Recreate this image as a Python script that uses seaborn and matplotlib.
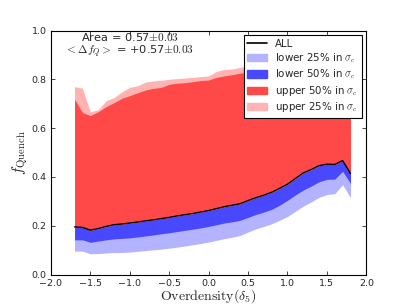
import numpy as np
import pandas as pd
import matplotlib
matplotlib.use("Agg")
import matplotlib.pyplot as plt
from matplotlib.patches import Patch
from matplotlib.lines import Line2D
import seaborn as sns

# overdensity bins
delta5 = [-1.7, -1.6, -1.5, -1.4, -1.3, -1.2, -1.1, -1.0, -0.9, -0.8, -0.7, -0.6,
          -0.5, -0.4, -0.3, -0.2, -0.1, 0.0, 0.1, 0.2, 0.3, 0.4, 0.5, 0.6,
          0.7, 0.8, 0.9, 1.0, 1.1, 1.2, 1.3, 1.4, 1.5, 1.6, 1.7, 1.8]

# quenched fraction, all galaxies
fq_all = [0.195, 0.193, 0.182, 0.188, 0.197, 0.204, 0.207, 0.211, 0.215, 0.220, 0.224, 0.229,
          0.234, 0.240, 0.245, 0.250, 0.256, 0.262, 0.270, 0.278, 0.284, 0.290, 0.303, 0.315,
          0.325, 0.337, 0.353, 0.370, 0.393, 0.416, 0.430, 0.446, 0.452, 0.451, 0.467, 0.414]

fq_low25 = [0.096, 0.096, 0.085, 0.086, 0.088, 0.090, 0.090, 0.092, 0.095, 0.098, 0.101, 0.104,
            0.108, 0.112, 0.117, 0.122, 0.127, 0.133, 0.140, 0.147, 0.153, 0.160, 0.174, 0.187,
            0.197, 0.208, 0.222, 0.238, 0.259, 0.280, 0.297, 0.316, 0.328, 0.331, 0.368, 0.315]

fq_low50 = [0.142, 0.142, 0.132, 0.137, 0.142, 0.146, 0.148, 0.150, 0.154, 0.158, 0.162, 0.167,
            0.171, 0.176, 0.181, 0.186, 0.191, 0.197, 0.204, 0.211, 0.216, 0.222, 0.234, 0.246,
            0.256, 0.267, 0.284, 0.304, 0.326, 0.346, 0.362, 0.380, 0.390, 0.391, 0.423, 0.373]

fq_up50 = [0.719, 0.664, 0.651, 0.667, 0.688, 0.704, 0.722, 0.733, 0.745, 0.756, 0.763, 0.767,
           0.779, 0.784, 0.786, 0.790, 0.795, 0.797, 0.808, 0.814, 0.819, 0.825, 0.830, 0.838,
           0.843, 0.848, 0.852, 0.857, 0.862, 0.866, 0.869, 0.873, 0.876, 0.878, 0.872, 0.862]

fq_up25 = [0.770, 0.764, 0.667, 0.675, 0.712, 0.725, 0.748, 0.767, 0.774, 0.789, 0.793, 0.796,
           0.800, 0.803, 0.805, 0.808, 0.811, 0.814, 0.832, 0.841, 0.842, 0.849, 0.855, 0.862,
           0.866, 0.870, 0.874, 0.879, 0.884, 0.888, 0.891, 0.895, 0.898, 0.900, 0.893, 0.882]

df = pd.DataFrame({"delta5": delta5, "fq": fq_all})

sns.set_style("ticks")
plt.rcParams["mathtext.fontset"] = "cm"
plt.rcParams["font.family"] = ["DejaVu Sans"]

fig, ax = plt.subplots(figsize=(4.07, 3.05), dpi=100)
fig.subplots_adjust(left=0.125, right=0.9, bottom=0.1, top=0.9)

c_low25, c_low50 = "#b3b3ff", "#4848ff"
c_up50, c_up25 = "#ff4848", "#ffb3b3"

ax.fill_between(delta5, fq_low25, fq_all, color=c_low25, lw=0)
ax.fill_between(delta5, fq_low50, fq_all, color=c_low50, lw=0)
ax.fill_between(delta5, fq_all, fq_up25, color=c_up25, lw=0)
ax.fill_between(delta5, fq_all, fq_up50, color=c_up50, lw=0)
sns.lineplot(data=df, x="delta5", y="fq", color="black", lw=1.0, ax=ax)

ax.set_xlim(-2.0, 2.0)
ax.set_ylim(0.0, 1.0)
ax.set_xticks(np.arange(-2.0, 2.01, 0.5))
ax.set_yticks(np.arange(0.0, 1.01, 0.2))
ax.set_xticklabels([f"{v:.1f}".replace("-", "\u2212") for v in np.arange(-2.0, 2.01, 0.5)])
ax.set_yticklabels([f"{v:.1f}" for v in np.arange(0.0, 1.01, 0.2)])
ax.tick_params(direction="in", length=3, width=0.6, labelsize=6.8,
               top=True, right=True)
ax.tick_params(axis="x", pad=3.2)
ax.tick_params(axis="y", pad=3)
for sp in ax.spines.values():
    sp.set_linewidth(0.8)
    sp.set_color("black")

ax.set_xlabel(r"${\rm Overdensity}(\delta_5)$", fontsize=10, labelpad=-0.2)
ax.set_ylabel(r"$f_{\rm Quench}$", fontsize=11, labelpad=1)

ax.text(-1.0, 0.972, r"Area = 0.57$\pm0.03$", ha="center", va="center", fontsize=8.2)
ax.text(-1.0, 0.912, r"$<\Delta f_Q>$ = +0.57$\pm0.03$", ha="center", va="center", fontsize=8.2)

handles = [Line2D([], [], color="black", lw=1.2),
           Patch(color=c_low25), Patch(color=c_low50),
           Patch(color=c_up50), Patch(color=c_up25)]
labels = ["ALL", r"lower 25% in $\sigma_c$", r"lower 50% in $\sigma_c$",
          r"upper 50% in $\sigma_c$", r"upper 25% in $\sigma_c$"]
leg = ax.legend(handles, labels, loc="upper right", fontsize=7.4, frameon=True,
                fancybox=False, framealpha=1, edgecolor="black",
                borderaxespad=0.45, handlelength=1.9, labelspacing=0.25,
                borderpad=0.35, handletextpad=0.8)
leg.get_frame().set_linewidth(0.8)

fig.savefig("out.png", dpi=100)
